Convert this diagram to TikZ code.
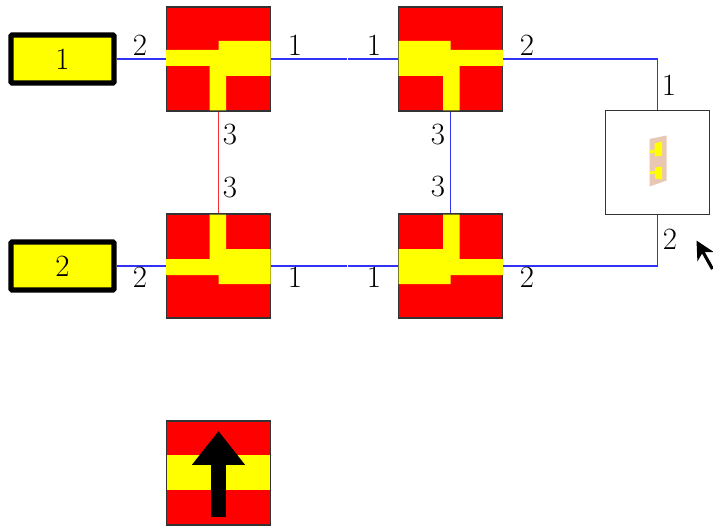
\documentclass[tikz,border=0pt]{standalone}
\usepackage{xcolor}
\usepackage{tikz}
\usetikzlibrary{arrows.meta, positioning}
\definecolor{mywire}{RGB}{50,50,245}
\definecolor{myred}{RGB}{245,50,50}
\definecolor{mytan}{RGB}{232,200,178}
\definecolor{myyellow}{RGB}{255,255,0}
\definecolor{myfill}{RGB}{255,0,0}
\tikzset{
  block/.style={rectangle, draw=black!80, fill=myfill, minimum size=2.08cm,
    inner sep=0pt, line width=0.7pt},
  port/.style={rectangle, draw=black, fill=myyellow, minimum width=2.06cm,
    minimum height=0.96cm, line width=2.9pt, rounded corners=0.5pt,
    font=\fontsize{17.6}{20}\selectfont},
  ant/.style={rectangle, draw=black!80, fill=white, minimum size=2.08cm,
    inner sep=0pt, line width=0.7pt},
  num/.style={inner sep=0pt, font=\fontsize{17.6}{20}\selectfont},
  wire/.style={line width=0.6pt, color=mywire},
  redwire/.style={line width=0.6pt, color=myred},
  keyarrow/.style={-{Triangle[length=19.3pt, width=29pt]}, line width=9.1pt, color=black},
  cursor/.style={-{Stealth[length=10.5pt, width=10.5pt, inset=3pt]}, line width=1.8pt, color=black},
  tee/.pic={
    \fill[myyellow] (-1.05,0.18) -- (0,0.18) -- (0,0.36) -- (1.04,0.36) -- (1.04,-0.34)
      -- (0.15,-0.34) -- (0.15,-1.03) -- (-0.18,-1.03) -- (-0.18,-0.14) -- (-1.05,-0.14) -- cycle;
  }
}
\begin{document}
\begin{tikzpicture}
  \useasboundingbox (0,0) rectangle (14.26,10.5);

  \node[block] (tl) at (4.37,9.32) {};
  \node[block] (tr) at (9.01,9.32) {};
  \node[block] (bl) at (4.37,5.18) {};
  \node[block] (br) at (9.01,5.18) {};
  \node[block] (key) at (4.37,1.04) {};
  \node[ant] (antbox) at (13.15,7.25) {};
  \node[port] (in1) at (1.25,9.32) {1};
  \node[port] (in2) at (1.25,5.18) {2};

  \pic at (tl.center) {tee};
  \pic[xscale=-1] at (tr.center) {tee};
  \pic[yscale=-1] at (bl.center) {tee};
  \pic[xscale=-1, yscale=-1] at (br.center) {tee};

  % antenna patch
  \fill[mytan] (12.99,7.72) -- (13.33,7.79) -- (13.33,6.89) -- (12.99,6.77) -- cycle;
  \fill[myyellow] (13.09,7.63) -- (13.24,7.67) -- (13.24,7.39) -- (13.09,7.37) -- cycle;
  \fill[myyellow] (12.99,7.49) -- (13.09,7.51) -- (13.09,7.45) -- (12.99,7.43) -- cycle;
  \fill[myyellow] (13.10,7.15) -- (13.24,7.17) -- (13.24,6.91) -- (13.10,6.93) -- cycle;
  \fill[myyellow] (13.00,7.07) -- (13.10,7.08) -- (13.10,7.03) -- (13.00,7.02) -- cycle;

  \coordinate (topa) at (6.93,9.32);
  \coordinate (topb) at (6.95,9.32);
  \coordinate (bota) at (6.93,5.18);
  \coordinate (botb) at (6.95,5.18);

  \draw[wire] (in1) -- (tl);
  \draw[wire] (in2) -- (bl);
  \draw[wire] (tl) -- (topa);
  \draw[wire] (topb) -- (tr);
  \draw[wire] (bl) -- (bota);
  \draw[wire] (botb) -- (br);
  \draw[redwire] (tl) -- (bl);
  \draw[wire] (tr) -- (br);
  \draw[wire] (tr) -| (antbox);
  \draw[wire] (br) -| (antbox);

  \fill[myyellow] (3.34,0.70) rectangle (5.40,1.40);
  \coordinate (keytail) at (4.37,0.17);
  \coordinate (keytip) at (4.37,1.88);
  \draw[keyarrow] (keytail) -- (keytip);

  \coordinate (curtail) at (14.25,5.12);
  \coordinate (curtip) at (13.93,5.69);
  \draw[cursor] (curtail) -- (curtip);

  \node[num] (n1) at (2.80,9.60) {2};
  \node[num] (n2) at (5.90,9.60) {1};
  \node[num] (n3) at (7.48,9.60) {1};
  \node[num] (n4) at (10.54,9.60) {2};
  \node[num] (n5) at (13.38,8.80) {1};
  \node[num] (n6) at (13.40,5.72) {2};
  \node[num] (n7) at (4.60,7.80) {3};
  \node[num] (n8) at (4.60,6.74) {3};
  \node[num] (n9) at (8.76,7.80) {3};
  \node[num] (n10) at (8.76,6.76) {3};
  \node[num] (n11) at (2.80,4.96) {2};
  \node[num] (n12) at (5.90,4.96) {1};
  \node[num] (n13) at (7.48,4.96) {1};
  \node[num] (n14) at (10.54,4.96) {2};
\end{tikzpicture}
\end{document}
